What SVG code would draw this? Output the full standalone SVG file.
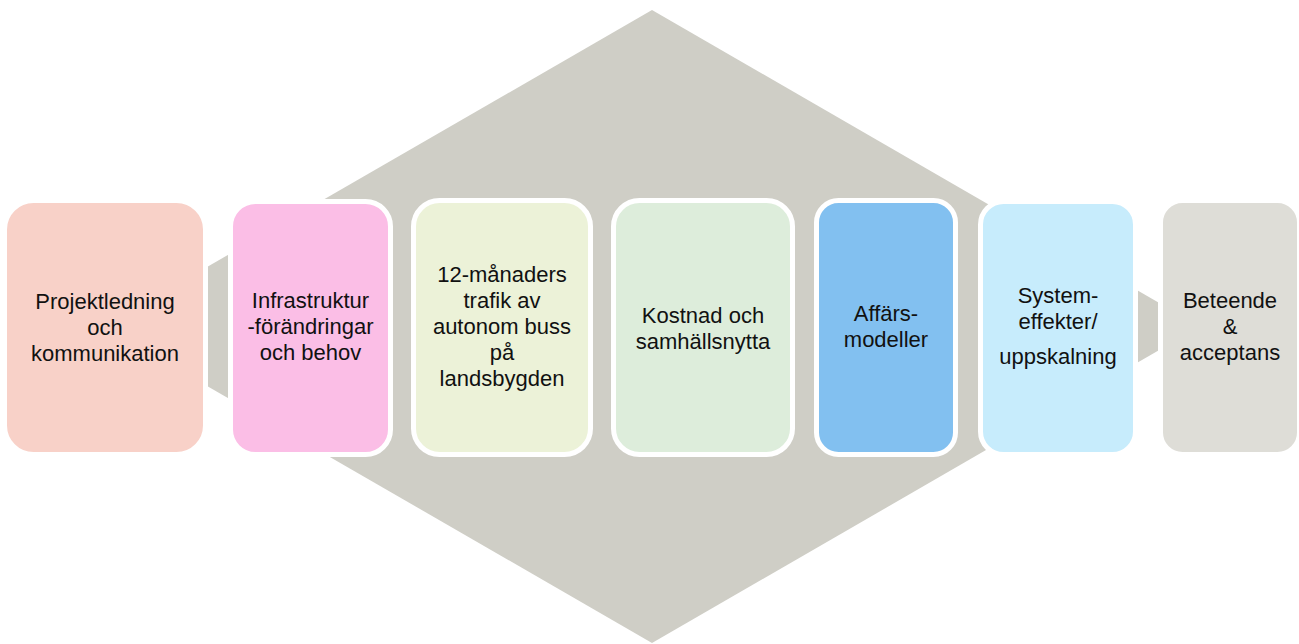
<svg xmlns="http://www.w3.org/2000/svg" width="1299" height="644" viewBox="0 0 1299 644">
<style>
.bg{fill:#CFCEC6}
.box{stroke:#FFFFFF;stroke-width:5}
.t{font-family:"Liberation Sans",Arial,sans-serif;font-size:22px;fill:#111111;text-anchor:middle}
</style>
<rect width="1299" height="644" fill="#FFFFFF"/>
<polygon id="backdrop" class="bg" points="652,10 1200,326.5 652,643 104,326.5"/>
<g id="connectors"/>
<g id="n1">
<rect class="box" x="4.5" y="200.5" width="201" height="254" rx="29" fill="#F8D1C8"/>
<text class="t" x="105" y="309">Projektledning</text>
<text class="t" x="105" y="335">och</text>
<text class="t" x="105" y="361">kommunikation</text>
</g>
<g id="n2">
<rect class="box" x="230.5" y="201.5" width="160" height="253" rx="25" fill="#FBBEE6"/>
<text class="t" x="310.5" y="308">Infrastruktur</text>
<text class="t" x="310.5" y="334">-förändringar</text>
<text class="t" x="310.5" y="360">och behov</text>
</g>
<g id="n3">
<rect class="box" x="413.5" y="200.5" width="177" height="254" rx="26" fill="#ECF2D8"/>
<text class="t" x="502" y="282">12-månaders</text>
<text class="t" x="502" y="308">trafik av</text>
<text class="t" x="502" y="334">autonom buss</text>
<text class="t" x="502" y="360">på</text>
<text class="t" x="502" y="386">landsbygden</text>
</g>
<g id="n4">
<rect class="box" x="613.5" y="200.5" width="179" height="254" rx="26" fill="#DDEDDB"/>
<text class="t" x="703" y="323">Kostnad och</text>
<text class="t" x="703" y="349">samhällsnytta</text>
</g>
<g id="n5">
<rect class="box" x="816.5" y="200.5" width="139" height="254" rx="22" fill="#82C0F0"/>
<text class="t" x="886" y="321">Affärs-</text>
<text class="t" x="886" y="347">modeller</text>
</g>
<g id="n6">
<rect class="box" x="980.5" y="201.5" width="155" height="253" rx="23" fill="#C7ECFC"/>
<text class="t" x="1058" y="303">System-</text>
<text class="t" x="1058" y="329">effekter/</text>
<text class="t" x="1058" y="364">uppskalning</text>
</g>
<g id="n7">
<rect class="box" x="1160.5" y="200.5" width="139" height="254" rx="22" fill="#DEDDD7"/>
<text class="t" x="1230" y="308">Beteende</text>
<text class="t" x="1230" y="334">&amp;</text>
<text class="t" x="1230" y="360">acceptans</text>
</g>
</svg>
